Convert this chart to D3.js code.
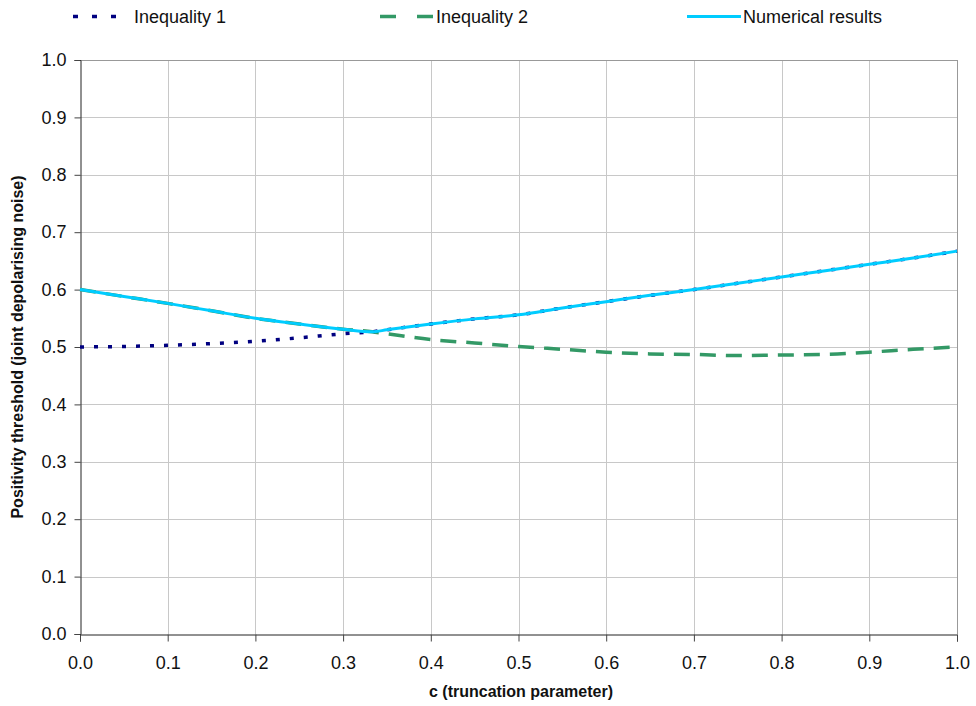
<!DOCTYPE html>
<html>
<head>
<meta charset="utf-8">
<script src="https://cdn.jsdelivr.net/npm/d3@7"></script>
<style>
  html, body { margin: 0; padding: 0; background: #fff; }
  svg { display: block; font-family: "Liberation Sans", Arial, sans-serif; }
</style>
</head>
<body>
<svg id="chart" width="976" height="706"></svg>
<script>
// Truncation parameter c
const cValues = [0, 0.05, 0.1, 0.15, 0.2, 0.25, 0.3, 0.333, 0.35, 0.4, 0.45, 0.5,
                 0.55, 0.6, 0.65, 0.7, 0.75, 0.8, 0.85, 0.9, 0.95, 1.0];

// Positivity thresholds
const inequality1 = [0.500, 0.501, 0.503, 0.506, 0.510, 0.516, 0.523, 0.5265, 0.530, 0.540, 0.549, 0.556,
                     0.568, 0.579, 0.590, 0.600, 0.611, 0.622, 0.633, 0.644, 0.655, 0.667];
const inequality2 = [0.600, 0.588, 0.576, 0.563, 0.550, 0.540, 0.531, 0.5265, 0.523, 0.513, 0.507, 0.501,
                     0.496, 0.491, 0.488, 0.487, 0.485, 0.486, 0.487, 0.491, 0.496, 0.500];
const numerical   = [0.600, 0.588, 0.576, 0.563, 0.550, 0.540, 0.531, 0.5265, 0.530, 0.540, 0.549, 0.556,
                     0.568, 0.579, 0.590, 0.600, 0.611, 0.622, 0.633, 0.644, 0.655, 0.667];

const xTicks = [0, 0.1, 0.2, 0.3, 0.4, 0.5, 0.6, 0.7, 0.8, 0.9, 1.0];
const yTicks = [0, 0.1, 0.2, 0.3, 0.4, 0.5, 0.6, 0.7, 0.8, 0.9, 1.0];

const seriesNames = ["Inequality 1", "Inequality 2", "Numerical results"];
const xTitle = "c (truncation parameter)";
const yTitle = "Positivity threshold (joint depolarising noise)";

const svg = d3.select("#chart");
const plotLeft = 80, plotRight = 957, plotTop = 60, plotBottom = 634;

const x = d3.scaleLinear().domain([0, 1]).range([plotLeft, plotRight]);
const y = d3.scaleLinear().domain([0, 1]).range([plotBottom, plotTop]);

// Grid
const grid = svg.append("g");
grid.selectAll("line.v").data(xTicks.slice(1)).join("line")
  .attr("x1", d => Math.round(x(d)) + 0.5).attr("x2", d => Math.round(x(d)) + 0.5)
  .attr("y1", plotTop).attr("y2", plotBottom)
  .attr("stroke", d => d === 1 ? "#999" : "#c8c8c8").attr("stroke-width", 1);
grid.selectAll("line.h").data(yTicks.slice(1)).join("line")
  .attr("x1", plotLeft).attr("x2", plotRight)
  .attr("y1", d => Math.round(y(d)) + 0.5).attr("y2", d => Math.round(y(d)) + 0.5)
  .attr("stroke", d => d === 1 ? "#999" : "#c8c8c8").attr("stroke-width", 1);

// Axes
const fmt = d3.format(".1f");
const xAxis = svg.append("g").attr("transform", `translate(0,${plotBottom + 0.5})`)
  .call(d3.axisBottom(x).tickValues(xTicks).tickFormat(fmt).tickSize(7).tickPadding(15));
const yAxis = svg.append("g").attr("transform", `translate(${plotLeft + 0.5},0)`)
  .call(d3.axisLeft(y).tickValues(yTicks).tickFormat(fmt).tickSize(6).tickPadding(8));
[xAxis, yAxis].forEach(a => {
  a.select(".domain").attr("stroke", "#222");
  a.selectAll(".tick line").attr("stroke", "#444");
  a.selectAll(".tick text").attr("fill", "#111")
    .style("font-size", "18px").style("font-family", "'Liberation Sans', Arial, sans-serif");
});

// Axis titles
svg.append("text").attr("x", 521).attr("y", 697)
  .attr("text-anchor", "middle").attr("font-weight", "bold").attr("font-size", 16)
  .attr("fill", "#111").text(xTitle);
svg.append("text").attr("transform", `translate(23,${(plotTop + plotBottom) / 2}) rotate(-90)`)
  .attr("text-anchor", "middle").attr("font-weight", "bold").attr("font-size", 16)
  .attr("fill", "#111").text(yTitle);

// Series
const styles = [
  { data: inequality1, color: "#000080", width: 3.5, dash: "4,10" },
  { data: inequality2, color: "#339966", width: 3.5, dash: "16,10" },
  { data: numerical,   color: "#00CCFF", width: 3,   dash: null }
];
const line = d3.line().x((d, i) => x(cValues[i])).y(d => y(d)).curve(d3.curveMonotoneX);

// draw order: green dashed, navy dotted, cyan on top
[1, 0, 2].forEach(k => {
  const s = styles[k];
  svg.append("path").datum(s.data)
    .attr("fill", "none").attr("stroke", s.color).attr("stroke-width", s.width)
    .attr("stroke-dasharray", s.dash).attr("d", line);
});

// Legend
const legendX = [73, 380, 687];
const legend = svg.append("g");
seriesNames.forEach((name, k) => {
  const s = styles[k];
  const lx = legendX[k];
  legend.append("line").attr("x1", lx).attr("x2", lx + 54).attr("y1", 16.5).attr("y2", 16.5)
    .attr("stroke", s.color).attr("stroke-width", s.width)
    .attr("stroke-dasharray", k === 0 ? "5,14" : (k === 1 ? "16,21" : null));
  legend.append("text").attr("x", lx + (k === 0 ? 61 : 56)).attr("y", 23)
    .attr("font-size", 18).attr("fill", "#111").text(name);
});
</script>
</body>
</html>
